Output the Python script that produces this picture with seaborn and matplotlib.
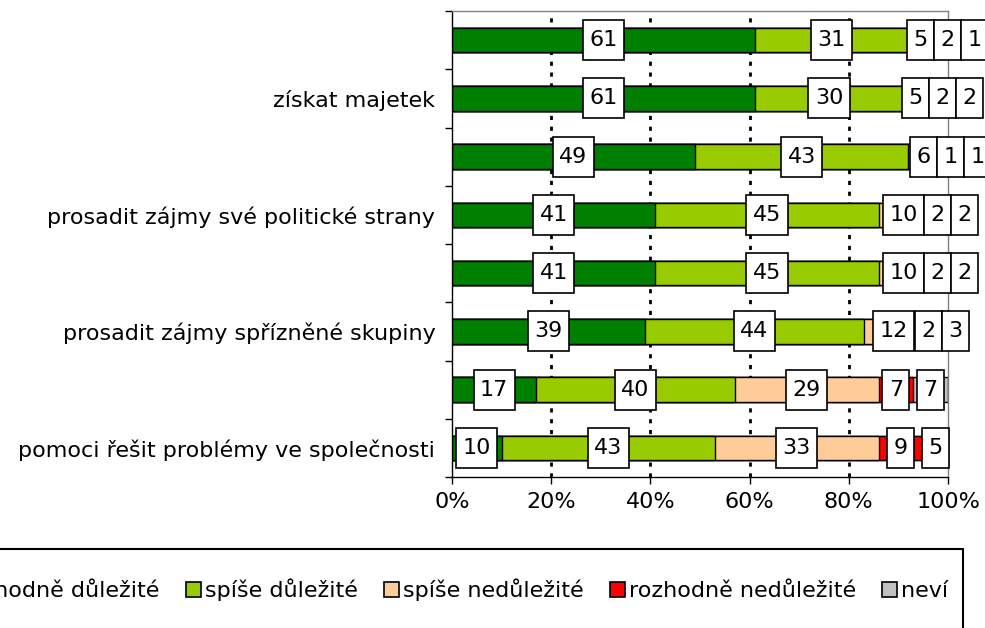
import numpy as np
import pandas as pd
import matplotlib
matplotlib.use("Agg")
import matplotlib.pyplot as plt
import seaborn as sns
from matplotlib.patches import Patch, Rectangle
from matplotlib.path import Path
from matplotlib.ticker import FixedLocator

# ---------------- data ----------------
categories = ["", "získat majetek", "", "prosadit zájmy své politické strany", "",
              "prosadit zájmy spřízněné skupiny", "", "pomoci řešit problémy ve společnosti"]
series = ["rozhodně důležité", "spíše důležité", "spíše nedůležité", "rozhodně nedůležité", "neví"]
rozhodne_dulezite = [61, 61, 49, 41, 41, 39, 17, 10]
spise_dulezite = [31, 30, 43, 45, 45, 44, 40, 43]
spise_nedulezite = [5, 5, 6, 10, 10, 12, 29, 33]
rozhodne_nedulezite = [2, 2, 1, 2, 2, 2, 7, 9]
nevi = [1, 2, 1, 2, 2, 3, 7, 5]
colors = ["#008000", "#99CC00", "#FFCC99", "#FF0000", "#C0C0C0"]
x_ticks = [0, 20, 40, 60, 80, 100]
x_tick_labels = ["0%", "20%", "40%", "60%", "80%", "100%"]

values = [rozhodne_dulezite, spise_dulezite, spise_nedulezite, rozhodne_nedulezite, nevi]
row_ids = [f"r{i}" for i in range(len(categories))]

sns.set_style("white")
plt.rcParams["font.family"] = ["DejaVu Sans"]
plt.rcParams["text.color"] = "black"
plt.rcParams["xtick.color"] = "black"
plt.rcParams["ytick.color"] = "black"
FS = 16

fig = plt.figure(figsize=(9.85, 6.28), dpi=100)
ax = fig.add_axes([452 / 985, 1 - 477 / 628, 496 / 985, 466 / 628])

# cumulative data
vals = np.array(values, dtype=float)          # series x rows
cum = np.cumsum(vals, axis=0)
df = pd.DataFrame({"row": np.tile(row_ids, len(series)),
                   "series": np.repeat(series, len(row_ids)),
                   "value": vals.ravel(),
                   "cum": cum.ravel()})

# gridlines behind bars
for xv in x_ticks[1:-1]:
    ax.axvline(xv, color="black", lw=2, linestyle=(0, (1.5, 2.4)), zorder=0)

# stacked bars: draw cumulative totals from the largest down
for s, c in reversed(list(zip(series, colors))):
    sub = df[df["series"] == s]
    sns.barplot(data=sub, x="cum", y="row", order=row_ids, orient="h",
                color=c, width=0.42, edgecolor="black", linewidth=1.0,
                saturation=1, ax=ax, zorder=2)

ax.set_xlim(0, 100)
ax.set_ylim(len(row_ids) - 0.5, -0.5)
ax.set_xlabel("")
ax.set_ylabel("")
ax.set_xticks(x_ticks)
ax.set_xticklabels(x_tick_labels, fontsize=FS)
ax.set_yticks(range(len(row_ids)))
ax.set_yticklabels(categories, fontsize=FS)
ax.yaxis.set_minor_locator(FixedLocator(np.arange(-0.5, len(row_ids), 1.0)))
ax.tick_params(axis="y", which="major", left=True, length=0, pad=12)
ax.tick_params(axis="y", which="minor", left=True, length=5, width=1,
               direction="out", color="black")
ax.tick_params(axis="x", which="major", bottom=True, length=5, width=1,
               direction="out", pad=6, color="black")
ax.grid(False)
for side in ["left", "bottom"]:
    ax.spines[side].set_color("black")
    ax.spines[side].set_linewidth(1)
for side in ["top", "right"]:
    ax.spines[side].set_color("#808080")
    ax.spines[side].set_linewidth(1)
    ax.spines[side].set_visible(True)


def label_box(x0, y0, width, height, mutation_size):
    px = 0.29 * mutation_size
    py = 0.45 * mutation_size
    xa, ya = x0 - px, y0 - py
    xb, yb = x0 + width + px, y0 + height + py
    return Path([(xa, ya), (xb, ya), (xb, yb), (xa, yb), (xa, ya)], closed=True)


# value labels in boxes
texts = []
for r in range(len(row_ids)):
    row_texts = []
    for si in range(len(series)):
        v = vals[si, r]
        center = cum[si, r] - v / 2
        t = ax.text(center, r, f"{int(v)}", ha="center", va="center", fontsize=FS,
                    color="black", zorder=5, clip_on=False,
                    bbox=dict(boxstyle=label_box, facecolor="white",
                              edgecolor="black", linewidth=1.2))
        row_texts.append(t)
    texts.append(row_texts)

fig.canvas.draw()
renderer = fig.canvas.get_renderer()
inv = ax.transData.inverted()
for row_texts in texts:
    prev_right = -1e9
    for t in row_texts:
        bb = t.get_bbox_patch().get_window_extent(renderer)
        w = bb.width
        x0 = bb.x0
        if x0 < prev_right:
            new_cx = prev_right + w / 2
            cy = (bb.y0 + bb.y1) / 2
            dx = inv.transform((new_cx, cy))[0]
            t.set_x(dx)
            x0 = prev_right
        prev_right = x0 + w

# legend
handles = [Patch(facecolor=c, edgecolor="black", linewidth=1.2, label=s)
           for s, c in zip(series, colors)]
fig.legend(handles=handles, loc="center right", bbox_to_anchor=(948 / 985, 1 - 590 / 628),
           ncol=5, frameon=False, fontsize=FS, handlelength=0.68, handleheight=0.68,
           handletextpad=0.18, columnspacing=1.17, borderpad=0, borderaxespad=0)
fig.add_artist(Rectangle((-0.05, -0.3), 963 / 985 + 0.05, 0.3 + 1 - 549 / 628,
                         transform=fig.transFigure, fill=False, edgecolor="black",
                         linewidth=1.5))

fig.savefig("out.png", dpi=100)
